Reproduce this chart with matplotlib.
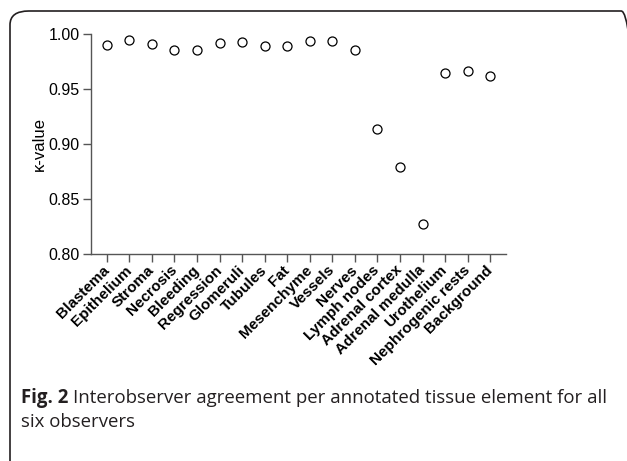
import matplotlib.pyplot as plt
from matplotlib.patches import FancyBboxPatch

# Datos
elementos = ["Blastema", "Epithelium", "Stroma", "Necrosis", "Bleeding", "Regression",
             "Glomeruli", "Tubules", "Fat", "Mesenchyme", "Vessels", "Nerves",
             "Lymph nodes", "Adrenal cortex", "Adrenal medulla", "Urothelium",
             "Nephrogenic rests", "Background"]
kappa = [0.990, 0.995, 0.991, 0.9855, 0.9855, 0.992, 0.9925, 0.9895, 0.9888, 0.9933,
         0.9933, 0.9855, 0.9133, 0.879, 0.827, 0.9645, 0.9664, 0.962]
y_ticks = [0.80, 0.85, 0.90, 0.95, 1.00]

plt.rcParams['font.family'] = ['Liberation Sans', 'DejaVu Sans']

fig = plt.figure(figsize=(6.27, 4.61), dpi=100)
W, H = 627, 461
ax = fig.add_axes([91 / W, 1 - 254 / H, (506 - 91) / W, (254 - 34) / H])

ax.plot(range(len(elementos)), kappa, linestyle="none", marker="o", markersize=6.5,
        markerfacecolor="white", markeredgecolor="black", markeredgewidth=0.9)

ax.set_xlim(-0.7, len(elementos) - 0.3)
ax.set_ylim(0.80, 1.00)
ax.set_yticks(y_ticks)
ax.set_yticklabels([f"{v:.2f}" for v in y_ticks], fontsize=11.5)
ax.set_xticks(range(len(elementos)))
ax.set_xticklabels(elementos, rotation=45, ha="right", va="center", rotation_mode="anchor",
                   fontsize=11, fontweight="bold")
ax.set_ylabel("κ-value", fontsize=12, labelpad=1)

for s in ["top", "right"]:
    ax.spines[s].set_visible(False)
for s in ["left", "bottom"]:
    ax.spines[s].set_color("#555555")
    ax.spines[s].set_linewidth(1.0)
ax.tick_params(axis="both", direction="out", length=6, width=1.0, color="#555555", pad=2)
ax.tick_params(axis="x", pad=4)

# Marco redondeado y leyenda de la figura
marco = FancyBboxPatch((10 / W, -0.05), (640 - 10) / W, 1 - 11 / H + 0.05,
                       boxstyle="round,pad=0,rounding_size=0.03",
                       transform=fig.transFigure, fill=False,
                       edgecolor="#231f20", linewidth=1.2, clip_on=False)
fig.patches.append(marco)

y1 = 1 - 403 / H
fig_txt = fig.text(21 / W, y1, "Fig. 2", fontsize=13.4, color="#231f20",
                   family="Open Sans", fontweight="bold", va="baseline")
fig.canvas.draw()
bb = fig_txt.get_window_extent().transformed(fig.transFigure.inverted())
fig.text(bb.x1 + 5 / W, y1, "Interobserver agreement per annotated tissue element for all",
         fontsize=13.4, color="#231f20", family="Open Sans", va="baseline")
fig.text(21 / W, 1 - 427 / H, "six observers", fontsize=13.4, color="#231f20",
         family="Open Sans", va="baseline")

plt.savefig("out.png", dpi=100)
